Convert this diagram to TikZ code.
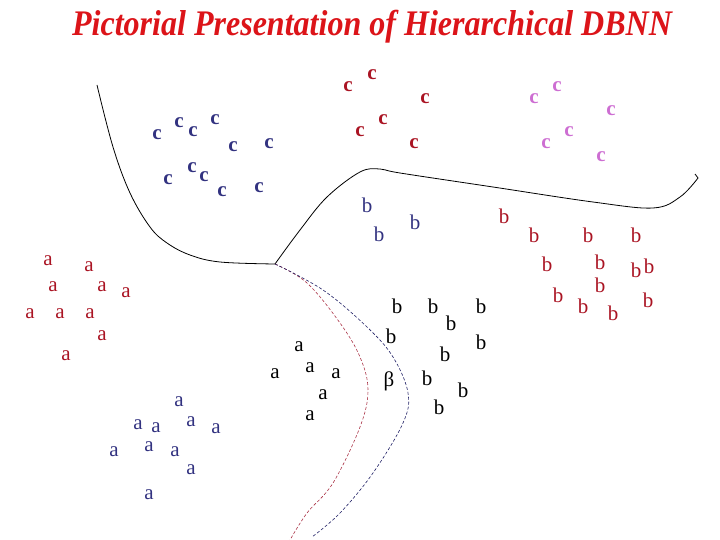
\documentclass[tikz,border=0pt]{standalone}
\usepackage{fontspec}
\setmainfont{Liberation Serif}
\definecolor{titlered}{RGB}{220,20,25}
\definecolor{classred}{RGB}{170,20,35}
\definecolor{classblue}{RGB}{50,50,128}
\definecolor{classpink}{RGB}{205,110,210}
\definecolor{dashred}{RGB}{170,50,70}
\definecolor{dashblue}{RGB}{30,30,100}

\begin{document}
\begin{tikzpicture}[x=1pt, y=-1pt,
  every node/.style = {inner sep=0pt, font=\fontsize{21}{23}\selectfont},
  title/.style = {titlered, font=\fontsize{36}{40}\selectfont\bfseries\itshape, xscale=0.89},
  cblue/.style = {classblue, font=\fontsize{21}{23}\selectfont\bfseries},
  cred/.style = {classred, font=\fontsize{21}{23}\selectfont\bfseries},
  cpink/.style = {classpink, font=\fontsize{21}{23}\selectfont\bfseries},
  pred/.style = {classred},
  pblue/.style = {classblue},
  pblack/.style = {black},
  border/.style = {black, line width=0.8pt},
  redline/.style = {dashred, dashed, dash pattern=on 3pt off 2pt, line width=0.6pt},
  blueline/.style = {dashblue, dashed, dash pattern=on 3pt off 2pt, line width=0.6pt},
  ]
  \useasboundingbox (0,0) rectangle (720,540);
  \node[title] (title) at (372,27) {Pictorial Presentation of Hierarchical DBNN};

  \foreach \x/\y [count=\i] in {157/135, 179/123, 193/132, 215/120, 233/147, 269/144,
      168/180, 192/168, 204/177, 222/192, 259/188}
    \node[cblue] (cb\i) at (\x,\y) {c};
  \foreach \x/\y [count=\i] in {348/87, 372/75, 425/99, 383/120, 360/132, 414/144}
    \node[cred] (cr\i) at (\x,\y) {c};
  \foreach \x/\y [count=\i] in {534/99, 557/87, 611/111, 569/132, 546/144, 601/157}
    \node[cpink] (cp\i) at (\x,\y) {c};

  \foreach \x/\y [count=\i] in {48/261, 89/267, 53/287, 102/287, 126/293, 30/314,
      60/314, 90/314, 102/336, 66/356}
    \node[pred] (ar\i) at (\x,\y) {a};
  \foreach \x/\y [count=\i] in {179/402, 138/425, 156/428, 191/422, 216/429, 114/452,
      149/447, 175/452, 191/470, 149/495}
    \node[pblue] (ab\i) at (\x,\y) {a};
  \foreach \x/\y [count=\i] in {299/347, 275/374, 310/368, 336/374, 323/395, 310/416}
    \node[pblack] (ak\i) at (\x,\y) {a};

  \foreach \x/\y [count=\i] in {367/205, 379/234, 415/222}
    \node[pblue] (bb\i) at (\x,\y) {b};
  \foreach \x/\y [count=\i] in {504/216, 534/235, 588/235, 636/235, 547/264, 600/262,
      636/270, 649/266, 600/285, 558/295, 583/306, 613/313, 648/300}
    \node[pred] (br\i) at (\x,\y) {b};
  \foreach \x/\y [count=\i] in {397/306, 433/306, 481/306, 451/323, 391/336, 481/342,
      445/354, 427/378, 463/390, 439/407}
    \node[pblack] (bk\i) at (\x,\y) {b};
  \node[pblack] (beta) at (389,381) {β};

  \coordinate (junc) at (275,264);
  \coordinate (top) at (97,85);
  \coordinate (tip) at (698,178);
  \draw[border] plot[smooth, tension=0.6] coordinates {(top) (113,147) (130,193) (150,227)
    (167,243) (190,255) (220,262) (junc)};
  \draw[border] plot[smooth, tension=0.6] coordinates {(junc) (300,230) (327,197)
    (360,172) (380,169) (400,173) (493,187) (593,202) (653,208) (680,197) (tip)}
    -- (695,174);
  \draw[redline] plot[smooth, tension=0.6] coordinates {(junc) (307,283) (340,323)
    (360,357) (368,390) (360,427) (333,483) (307,513) (290,540)};
  \draw[blueline] plot[smooth, tension=0.6] coordinates {(junc) (323,290) (367,327)
    (393,357) (408,393) (403,423) (373,473) (340,513) (312,537)};
\end{tikzpicture}
\end{document}
